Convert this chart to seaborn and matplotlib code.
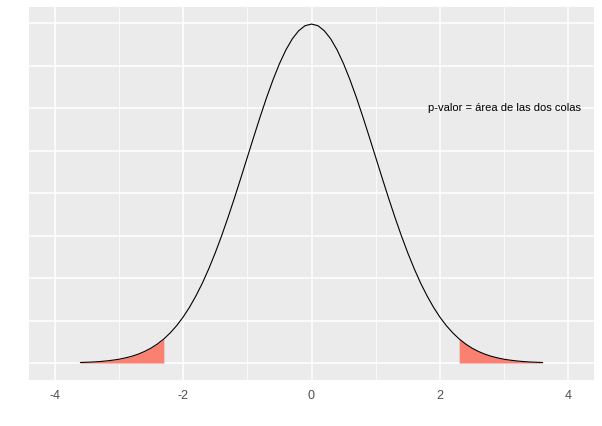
import numpy as np
import pandas as pd
import matplotlib
matplotlib.use("Agg")
import matplotlib.pyplot as plt
import seaborn as sns

# density curve (standard normal shape)
x_vals = [-3.6, -3.5, -3.4, -3.3, -3.2, -3.1, -3.0, -2.9, -2.8, -2.7,
          -2.6, -2.5, -2.4, -2.3, -2.2, -2.1, -2.0, -1.9, -1.8, -1.7,
          -1.6, -1.5, -1.4, -1.3, -1.2, -1.1, -1.0, -0.9, -0.8, -0.7,
          -0.6, -0.5, -0.4, -0.3, -0.2, -0.1, 0.0, 0.1, 0.2, 0.3,
          0.4, 0.5, 0.6, 0.7, 0.8, 0.9, 1.0, 1.1, 1.2, 1.3,
          1.4, 1.5, 1.6, 1.7, 1.8, 1.9, 2.0, 2.1, 2.2, 2.3,
          2.4, 2.5, 2.6, 2.7, 2.8, 2.9, 3.0, 3.1, 3.2, 3.3,
          3.4, 3.5, 3.6]
density = [0.0006, 0.0009, 0.0012, 0.0017, 0.0024, 0.0033, 0.0044, 0.0060, 0.0079, 0.0104,
           0.0136, 0.0175, 0.0224, 0.0283, 0.0355, 0.0440, 0.0540, 0.0656, 0.0790, 0.0940,
           0.1109, 0.1295, 0.1497, 0.1714, 0.1942, 0.2179, 0.2420, 0.2661, 0.2897, 0.3123,
           0.3332, 0.3521, 0.3683, 0.3814, 0.3910, 0.3970, 0.3989, 0.3970, 0.3910, 0.3814,
           0.3683, 0.3521, 0.3332, 0.3123, 0.2897, 0.2661, 0.2420, 0.2179, 0.1942, 0.1714,
           0.1497, 0.1295, 0.1109, 0.0940, 0.0790, 0.0656, 0.0540, 0.0440, 0.0355, 0.0283,
           0.0224, 0.0175, 0.0136, 0.0104, 0.0079, 0.0060, 0.0044, 0.0033, 0.0024, 0.0017,
           0.0012, 0.0009, 0.0006]
critical = 2.3
x_ticks = [-4, -2, 0, 2, 4]
label = "p-valor = área de las dos colas"

df = pd.DataFrame({"x": x_vals, "y": density})

sns.set_theme(style="darkgrid", rc={
    "axes.facecolor": "#EBEBEB",
    "grid.color": "white",
    "axes.edgecolor": "#EBEBEB",
})
plt.rcParams["font.family"] = ["Liberation Sans", "DejaVu Sans"]

fig = plt.figure(figsize=(6.02, 4.26), dpi=100)
ax = fig.add_axes([29 / 602, 1 - 380 / 426, 565 / 602, 373 / 426])

# tails
left = df[df.x <= -critical]
right = df[df.x >= critical]
ax.fill_between(left.x, 0, left.y, color="#FA8072", linewidth=0, zorder=2)
ax.fill_between(right.x, 0, right.y, color="#FA8072", linewidth=0, zorder=2)

sns.lineplot(data=df, x="x", y="y", color="black", linewidth=0.8, ax=ax, zorder=3)

ax.text(3, 0.3, label, ha="center", va="center", fontsize=8, color="black")

ax.set_xlim(-4.4, 4.4)
ax.set_ylim(-0.02, 0.419)
ax.set_xticks(x_ticks)
ax.set_xticklabels([str(t) for t in x_ticks])
ax.set_xticks([-3, -1, 1, 3], minor=True)
ax.set_yticks(np.arange(0, 0.41, 0.05))
ax.set_yticklabels([])
ax.grid(which="major", color="white", linewidth=1.1)
ax.grid(which="minor", axis="x", color="white", linewidth=0.55)
ax.tick_params(axis="x", which="major", length=4, width=0.8, color="#333333",
               labelsize=9, labelcolor="#4D4D4D", pad=3)
ax.tick_params(axis="x", which="minor", length=0)
ax.tick_params(axis="y", length=0)
ax.set_xlabel("")
ax.set_ylabel("")
for s in ax.spines.values():
    s.set_visible(False)

fig.savefig("out.png", dpi=100)
